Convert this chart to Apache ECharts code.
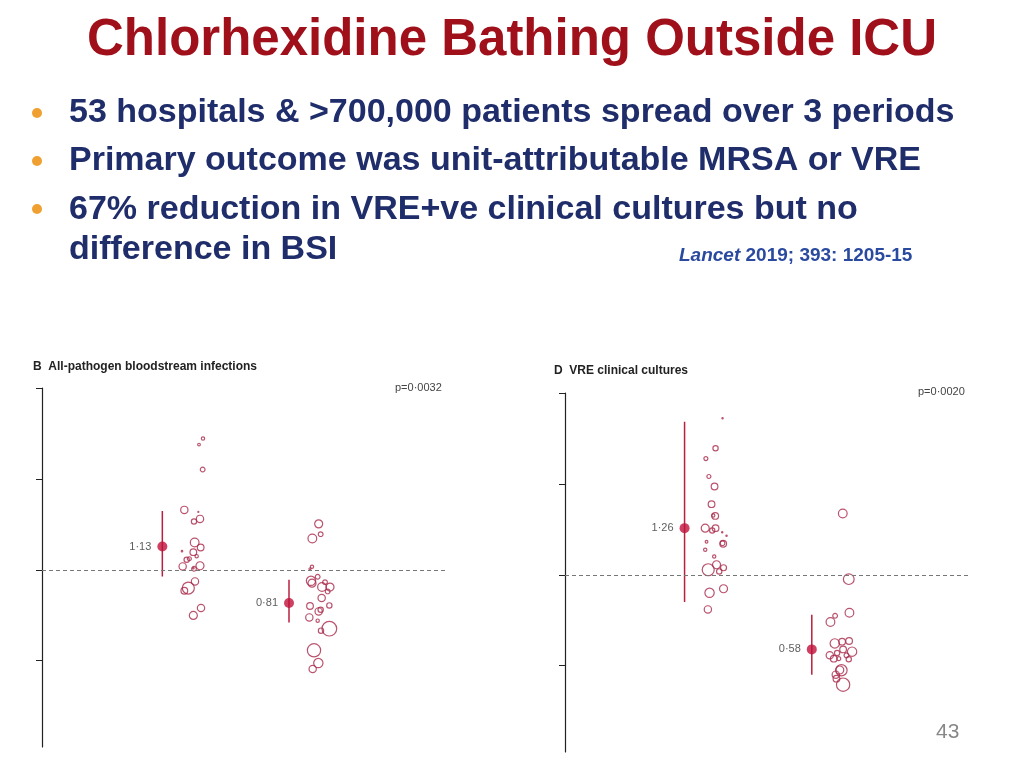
<!DOCTYPE html>
<html><head><meta charset="utf-8">
<script src="https://cdn.jsdelivr.net/npm/echarts@6/dist/echarts.min.js"></script>
<style>html,body{margin:0;padding:0;background:#fff}#c{width:1024px;height:768px}</style>
</head><body><div id="c"></div>
<script>
// Panel B: All-pathogen bloodstream infections  [x, y(log units, 0 = ratio 1), circle diameter px]
const bPre = [[519,1.443,3.3],[507,1.377,2.7],[518,1.103,4.7],[463,0.659,7.3],[505,0.637,1],[510,0.560,7.3],[492,0.531,5.3],[494,0.300,8.7],[512,0.245,6.7],[456,0.205,1.5],[490,0.194,6.7],[470,0.110,5.3],[478,0.121,4],[500,0.150,3.3],[458,0.037,7.3],[510,0.044,8],[492,0.011,4.7],[490,0.018,1.5],[495,-0.128,7.3],[475,-0.201,12],[463,-0.231,6.7],[513,-0.421,7.3],[490,-0.502,8]];
const bPost = [[866,0.505,8],[872,0.392,4.7],[847,0.344,8.7],[846,0.033,3.3],[840,0.011,2],[843,-0.121,9.3],[863,-0.077,4.7],[846,-0.147,8],[885,-0.136,4.7],[876,-0.190,8.7],[900,-0.190,8],[893,-0.238,4.7],[875,-0.311,7.3],[840,-0.399,6.7],[898,-0.392,5.3],[866,-0.458,7.3],[872,-0.440,5.3],[838,-0.524,7.3],[863,-0.560,3.3],[898,-0.648,14.7],[873,-0.670,5.3],[852,-0.886,13.3],[865,-1.026,9.3],[848,-1.092,7.3]];
const bEst = [[397,0.256,'1·13'],[777,-0.366,'0·81']];
const bCI = [[397,0.648,-0.073],[777,-0.110,-0.579]];
// Panel D: VRE clinical cultures
const dPre = [[518,1.722,1.3],[497,1.392,5.3],[468,1.278,4],[477,1.081,4],[494,0.971,6.7],[485,0.777,6.7],[496,0.648,6.7],[490,0.652,3.3],[466,0.513,8],[497,0.513,6.7],[487,0.487,5.3],[517,0.469,1.3],[530,0.429,1.3],[470,0.363,2.7],[520,0.341,6.7],[518,0.348,4.7],[466,0.275,3.3],[493,0.201,3.3],[475,0.055,12],[500,0.110,8],[508,0.037,5.3],[521,0.077,6],[479,-0.198,9.3],[521,-0.154,8],[474,-0.381,7.3]];
const dPost = [[879,0.674,8.7],[897,-0.048,10.7],[899,-0.418,8.7],[856,-0.451,4.7],[842,-0.520,8.7],[855,-0.755,9.3],[877,-0.736,6.7],[898,-0.729,6.7],[907,-0.846,9.3],[880,-0.821,6.7],[862,-0.861,5.3],[840,-0.886,7.3],[852,-0.923,6.7],[890,-0.886,4.7],[897,-0.930,5.3],[867,-0.923,4],[875,-1.051,11.3],[870,-1.048,8],[858,-1.099,7.3],[860,-1.143,6.7],[880,-1.209,13.3]];
const dEst = [[786,-0.821,'0·58'],[404,0.513,'1·26']];
const dCI = [[404,1.685,-0.300],[786,-0.440,-1.099]];
const yTicks = [-1,0,1,2];

const RED='#b8203f', OPEN='#a8284a';
function axes(i,xmin,xmax){
  return {
    x:{gridIndex:i,type:'value',min:xmin,max:xmax,show:false},
    y:{gridIndex:i,type:'value',min:-1.95,max:2,
       axisLine:{show:true,lineStyle:{color:'#222',width:1.2}},
       axisTick:{show:true,customValues:yTicks,length:6,inside:false,lineStyle:{color:'#222'}},
       axisLabel:{show:false},splitLine:{show:false}}
  };
}
const aB=axes(0,36,1245), aD=axes(1,45,1255);
const series=[];
function panel(i,pre,post,est,ci){
  [pre,post].forEach(arr=>series.push({type:'scatter',xAxisIndex:i,yAxisIndex:i,
    data:arr.map(p=>[p[0],p[1],p[2]]),symbolSize:v=>v[2],
    itemStyle:{color:'rgba(0,0,0,0)',borderColor:OPEN,borderWidth:1.2},silent:true,z:3}));
  ci.forEach(c=>series.push({type:'line',xAxisIndex:i,yAxisIndex:i,symbol:'none',
    data:[[c[0],c[1]],[c[0],c[2]]],lineStyle:{color:RED,width:1.5},z:4}));
  series.push({type:'scatter',xAxisIndex:i,yAxisIndex:i,data:est.map(e=>({value:[e[0],e[1]],label:{formatter:e[2]}})),
    symbolSize:10,itemStyle:{color:'#c0103a'},z:5,
    label:{show:true,position:'left',distance:6,color:'#333',fontSize:11,fontFamily:'Liberation Sans'},
    markLine:{symbol:'none',silent:true,label:{show:false},lineStyle:{color:'#777',type:[4,3],width:1},data:[{yAxis:0}]}});
}
panel(0,bPre,bPost,bEst,bCI);
panel(1,dPre,dPost,dEst,dCI);

const navy='#1f2d6b';
const bf='bold 34px "Liberation Sans", Arial';
const sh={textShadowColor:'rgba(0,0,0,0.2)',textShadowOffsetX:1,textShadowOffsetY:1};
const chart=echarts.init(document.getElementById('c'));
chart.setOption({
  animation:false,
  grid:[{left:42,right:579,top:388,bottom:21},{left:565,right:56,top:393,bottom:16}],
  xAxis:[aB.x,aD.x], yAxis:[aB.y,aD.y], series,
  graphic:[
    {type:'text',left:'center',top:15,style:{text:'Chlorhexidine Bathing Outside ICU',fill:'#a0101a',font:'bold 51px "Liberation Sans", Arial',textShadowColor:'rgba(0,0,0,0.25)',textShadowOffsetX:2,textShadowOffsetY:2}},
    {type:'circle',shape:{cx:37,cy:113,r:5},style:{fill:'#f0a030'}},
    {type:'circle',shape:{cx:37,cy:161,r:5},style:{fill:'#f0a030'}},
    {type:'circle',shape:{cx:37,cy:209,r:5},style:{fill:'#f0a030'}},
    {type:'text',left:69,top:96,style:Object.assign({text:'53 hospitals & >700,000 patients spread over 3 periods',fill:navy,font:bf},sh)},
    {type:'text',left:69,top:144,style:Object.assign({text:'Primary outcome was unit-attributable MRSA or VRE',fill:navy,font:bf},sh)},
    {type:'text',left:69,top:193,style:Object.assign({text:'67% reduction in VRE+ve clinical cultures but no',fill:navy,font:bf},sh)},
    {type:'text',left:69,top:233,style:Object.assign({text:'difference in BSI',fill:navy,font:bf},sh)},
    {type:'text',left:679,top:246,style:{text:'{i|Lancet} 2019; 393: 1205-15',rich:{i:{fontStyle:'italic',fontWeight:'bold',fontSize:19,fill:'#2a4aa0',fontFamily:'Liberation Sans'}},fill:'#2a4aa0',font:'bold 19px "Liberation Sans", Arial'}},
    {type:'text',left:33,top:361,style:{text:'B  All-pathogen bloodstream infections',fill:'#222',font:'bold 12px "Liberation Sans", Arial'}},
    {type:'text',left:395,top:382,style:{text:'p=0·0032',fill:'#444',font:'11px "Liberation Sans", Arial'}},
    {type:'text',left:554,top:365,style:{text:'D  VRE clinical cultures',fill:'#222',font:'bold 12px "Liberation Sans", Arial'}},
    {type:'text',left:918,top:386,style:{text:'p=0·0020',fill:'#444',font:'11px "Liberation Sans", Arial'}},
    {type:'text',left:936,top:722,style:{text:'43',fill:'#888',font:'21px "Liberation Sans", Arial'}}
  ]
});
</script></body></html>
